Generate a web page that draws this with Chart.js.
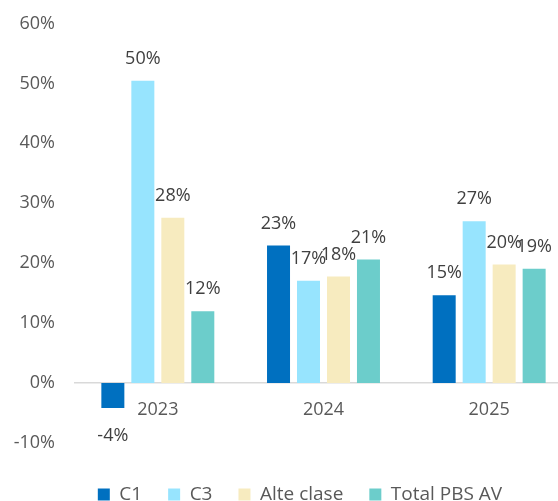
<!DOCTYPE html>
<html>
<head>
<meta charset="utf-8">
<script src="https://cdn.jsdelivr.net/npm/chart.js@4/dist/chart.umd.min.js"></script>
<style>
  html, body { margin: 0; padding: 0; background: #ffffff; overflow: hidden; }
  #wrap { width: 600px; height: 514px; position: relative; }
</style>
</head>
<body>
<div id="wrap"><canvas id="chart"></canvas></div>
<script>
// Annual change by asset class (percent)
const categories = ['2023', '2024', '2025'];
const seriesNames = ['C1', 'C3', 'Alte clase', 'Total PBS AV'];
const c1 = [-4.17, 22.95, 14.67];
const c3 = [50.45, 17.07, 27.0];
const alteClase = [27.6, 17.78, 19.78];
const totalPbsAv = [12.0, 20.6, 19.07];
const yTicks = [-10, 0, 10, 20, 30, 40, 50, 60];

const colors = ['#0070C0', '#97E4FE', '#F7EBBF', '#6CCDCB'];
const FONT = '"Open Sans", "DejaVu Sans", sans-serif';

// Percentage labels above (or below, for negatives) each bar
const valueLabels = {
  id: 'valueLabels',
  afterDatasetsDraw(chart) {
    const ctx = chart.ctx;
    ctx.save();
    ctx.font = '18px ' + FONT;
    ctx.fillStyle = '#404040';
    ctx.textAlign = 'center';
    ctx.textBaseline = 'alphabetic';
    chart.data.datasets.forEach((ds, i) => {
      const meta = chart.getDatasetMeta(i);
      meta.data.forEach((bar, j) => {
        const v = ds.data[j];
        const txt = Math.round(v) + '%';
        const y = v >= 0 ? bar.y - 17 : bar.y + 33;
        ctx.fillText(txt, bar.x, y);
      });
    });
    ctx.restore();
  }
};

// Blank band kept free of drawing (margins around the plot)
const blankAxis = (position, size) => ({
  type: 'category',
  position,
  afterFit(scale) {
    if (scale.isHorizontal()) { scale.height = size; } else { scale.width = size; }
    scale.paddingTop = scale.paddingBottom = scale.paddingLeft = scale.paddingRight = 0;
  },
  grid: { display: false, drawTicks: false },
  border: { display: false },
  ticks: { display: false }
});

new Chart(document.getElementById('chart'), {
  type: 'bar',
  data: {
    labels: categories,
    datasets: [c1, c3, alteClase, totalPbsAv].map((d, i) => ({
      label: seriesNames[i],
      data: d,
      backgroundColor: colors[i],
      borderWidth: 0,
      xAxisID: 'x',
      yAxisID: 'y',
      categoryPercentage: 0.724,
      barPercentage: 0.767
    }))
  },
  options: {
    responsive: true,
    maintainAspectRatio: false,
    animation: false,
    layout: { padding: { top: 23.5, right: 0, left: 0, bottom: 0 } },
    plugins: {
      legend: {
        position: 'bottom',
        labels: {
          boxWidth: 12,
          boxHeight: 12,
          padding: 26,
          color: '#595959',
          font: { family: FONT, size: 19 }
        }
      },
      tooltip: { enabled: false }
    },
    scales: {
      x: {
        position: { y: 0 },
        grid: { display: false, drawTicks: false },
        border: { display: true, color: '#D9D9D9', width: 1.5 },
        ticks: { color: '#595959', padding: 16, font: { family: FONT, size: 18 } }
      },
      y: {
        min: -10,
        max: 60,
        afterBuildTicks(scale) { scale.ticks = yTicks.map(v => ({ value: v })); },
        afterFit(scale) {
          scale.width = 75;
          scale.paddingTop = 0;
          scale.paddingBottom = 0;
        },
        grid: { display: false, drawTicks: false },
        border: { display: false },
        ticks: {
          color: '#595959',
          padding: 20,
          font: { family: FONT, size: 18 },
          callback: v => v + '%'
        }
      },
      yRight: Object.assign(blankAxis('right', 28), { axis: 'y' }),
      xBottom: Object.assign(blankAxis('bottom', 16), { axis: 'x' })
    }
  },
  plugins: [valueLabels]
});
</script>
</body>
</html>
